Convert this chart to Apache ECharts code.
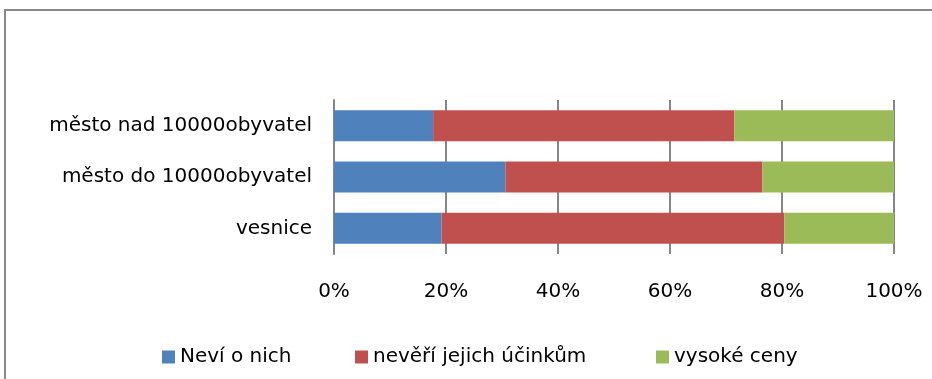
<!DOCTYPE html>
<html>
<head>
<meta charset="utf-8">
<script src="https://cdn.jsdelivr.net/npm/echarts@6/dist/echarts.min.js"></script>
<style>
html,body{margin:0;padding:0;background:#fff;}
#chart{width:932px;height:379px;}
</style>
</head>
<body>
<div id="chart"></div>
<script>
const categories = ['vesnice', 'město do 10000obyvatel', 'město nad 10000obyvatel'];
const seriesNames = ['Neví o nich', 'nevěří jejich účinkům', 'vysoké ceny'];
const neviONich = [19.2, 30.6, 17.7];
const neveriUcinkum = [61.2, 45.9, 53.8];
const vysokeCeny = [19.6, 23.5, 28.5];
const tickLabels = ['0%', '20%', '40%', '60%', '80%', '100%'];
const colors = ['#4f81bd', '#c0504d', '#9bbb59'];

const font = '"DejaVu Sans", "Open Sans", sans-serif';
const chart = echarts.init(document.getElementById('chart'));
const dataSets = [neviONich, neveriUcinkum, vysokeCeny];
const legendLeft = [157, 350, 651];

chart.setOption({
  animation: false,
  textStyle: { fontFamily: font },
  graphic: [{
    type: 'rect',
    shape: { x: 5, y: 10, width: 940, height: 380 },
    style: { fill: 'none', stroke: '#898989', lineWidth: 2 }
  }],
  grid: { left: 334, right: 38, top: 100, bottom: 125, containLabel: false },
  // one legend block per series so each entry sits at its own spot
  legend: seriesNames.map((name, i) => ({
    top: 342,
    left: legendLeft[i],
    itemWidth: 13,
    itemHeight: 13,
    icon: 'rect',
    textStyle: { fontSize: 20, color: '#000', fontFamily: font },
    data: [name]
  })),
  xAxis: {
    type: 'value',
    min: 0,
    max: 100,
    interval: 20,
    axisLine: { show: false },
    axisTick: { show: false },
    splitLine: { show: true, lineStyle: { color: '#868686', width: 2 } },
    axisLabel: {
      fontSize: 20, color: '#000', margin: 28,
      formatter: v => tickLabels[Math.round(v / 20)]
    }
  },
  yAxis: {
    type: 'category',
    data: categories,
    axisLine: { show: true, lineStyle: { color: '#868686', width: 2 } },
    axisTick: { show: false },
    axisLabel: { fontSize: 20, color: '#000', margin: 22 }
  },
  series: seriesNames.map((name, i) => ({
    name: name,
    type: 'bar',
    stack: 'total',
    barWidth: 31,
    itemStyle: { color: colors[i] },
    data: dataSets[i]
  }))
});
</script>
</body>
</html>
